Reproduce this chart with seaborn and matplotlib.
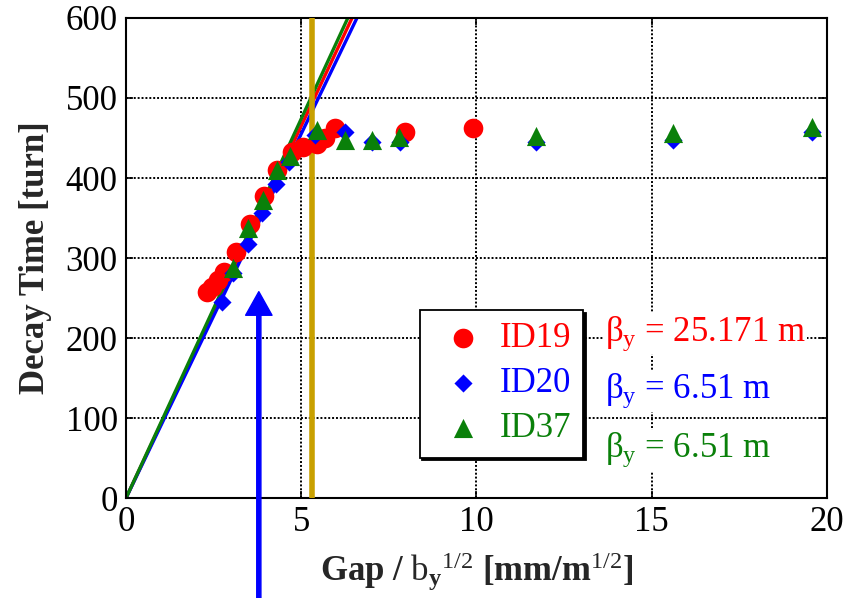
import matplotlib
matplotlib.use("Agg")
import matplotlib.pyplot as plt
import seaborn as sns
import pandas as pd

# ---- data ----
id19_x = [2.30, 2.45, 2.62, 2.80, 3.13, 3.54, 3.94, 4.32, 4.73, 5.05, 5.44, 5.68, 5.96, 7.96, 9.91]
id19_y = [258, 264, 272, 283, 308, 343, 377, 410, 433, 439, 443, 450, 462, 458, 462]

id20_x = [2.73, 3.06, 3.49, 3.87, 4.28, 4.65, 5.39, 6.25, 7.01, 7.82, 11.71, 15.62, 19.56]
id20_y = [245, 281, 318, 356, 393, 420, 454, 458, 445, 445, 445, 447, 458]

id37_x = [3.06, 3.49, 3.90, 4.30, 4.68, 5.44, 6.25, 7.01, 7.80, 11.71, 15.62, 19.56]
id37_y = [287, 337, 372, 410, 427, 460, 447, 448, 451, 452, 456, 464]

# fitted lines (end points)
fit19_x = [0, 6.45]
fit19_y = [0, 600]
fit20_x = [0, 6.59]
fit20_y = [0, 600]
fit37_x = [0, 6.33]
fit37_y = [0, 600]

gold_x = 5.31
arrow_x = 3.79
arrow_tip_y = 258

labels = ["ID19", "ID20", "ID37"]
beta_labels = ["25.171 m", "6.51 m", "6.51 m"]

RED, BLUE, GREEN, GOLD = "#FF0000", "#0000FF", "#0A800A", "#C8A000"
FS = 25

sns.set_style("ticks")
plt.rcParams["font.family"] = ["Liberation Serif", "DejaVu Serif"]
plt.rcParams["mathtext.fontset"] = "custom"
plt.rcParams["mathtext.rm"] = "Liberation Serif"
plt.rcParams["mathtext.it"] = "Liberation Serif:italic"
plt.rcParams["mathtext.bf"] = "Liberation Serif:bold"

fig = plt.figure(figsize=(8.57, 5.98), dpi=100)
ax = fig.add_axes([0.147, 0.167, 0.818, 0.803])

# fit lines
for fx, fy, c in [(fit19_x, fit19_y, RED), (fit20_x, fit20_y, BLUE), (fit37_x, fit37_y, GREEN)]:
    sns.lineplot(x=fx, y=fy, color=c, lw=2.4, ax=ax, legend=False, zorder=2)

ax.axvline(gold_x, color=GOLD, lw=4, zorder=3)

df19 = pd.DataFrame({"x": id19_x, "y": id19_y})
df20 = pd.DataFrame({"x": id20_x, "y": id20_y})
df37 = pd.DataFrame({"x": id37_x, "y": id37_y})
sns.scatterplot(data=df19, x="x", y="y", marker="o", s=200, color=RED, edgecolor=RED,
                linewidth=0, ax=ax, label=labels[0], zorder=4)
sns.scatterplot(data=df20, x="x", y="y", marker="D", s=85, color=BLUE, edgecolor=BLUE,
                linewidth=0, ax=ax, label=labels[1], zorder=5)
sns.scatterplot(data=df37, x="x", y="y", marker="^", s=190, color=GREEN, edgecolor=GREEN,
                linewidth=0, ax=ax, label=labels[2], zorder=6)

ax.set_xlim(0, 20)
ax.set_ylim(0, 600)
ax.set_xticks([0, 5, 10, 15, 20])
ax.set_yticks(range(0, 601, 100))
ax.grid(True, color="black", linestyle=(0, (1, 1)), lw=1.4)
ax.tick_params(direction="in", length=5, width=1.2, labelsize=FS, top=True, right=True,
               pad=6, colors="black")
for s in ax.spines.values():
    s.set_color("black")
    s.set_linewidth(1.5)

ax.set_xlabel(r"Gap / $\mathrm{b}_\mathbf{y}$$^{1/2}$ [mm/m$^{1/2}$]", fontsize=FS,
              fontweight="bold", labelpad=8)
ax.set_ylabel("Decay Time [turn]", fontsize=FS, fontweight="bold", labelpad=10)

leg = ax.legend(loc="upper left", bbox_to_anchor=(0.419, 0.392), borderaxespad=0,
                fontsize=FS, frameon=True, fancybox=False, shadow={"color": "black", "alpha": 1},
                handletextpad=0.15, labelspacing=0.35, borderpad=0.35, handlelength=1.8,
                markerscale=1.0)
leg.get_frame().set_edgecolor("black")
leg.get_frame().set_linewidth(1.3)
for t, c in zip(leg.get_texts(), [RED, BLUE, GREEN]):
    t.set_color(c)

for lab, yv, c in zip(beta_labels, [197, 125, 51], [RED, BLUE, GREEN]):
    ax.text(13.67, yv, r"β$_\mathrm{y}$ = " + lab, color=c, fontsize=FS, va="baseline", ha="left",
            zorder=7, bbox=dict(facecolor="white", edgecolor="none", pad=1))

ax.annotate("", xy=(arrow_x, arrow_tip_y), xytext=(arrow_x, -130),
            arrowprops=dict(facecolor=BLUE, edgecolor=BLUE, width=3, headwidth=19, headlength=17, shrink=0),
            annotation_clip=False, zorder=8)

fig.savefig("out.png", dpi=100)
